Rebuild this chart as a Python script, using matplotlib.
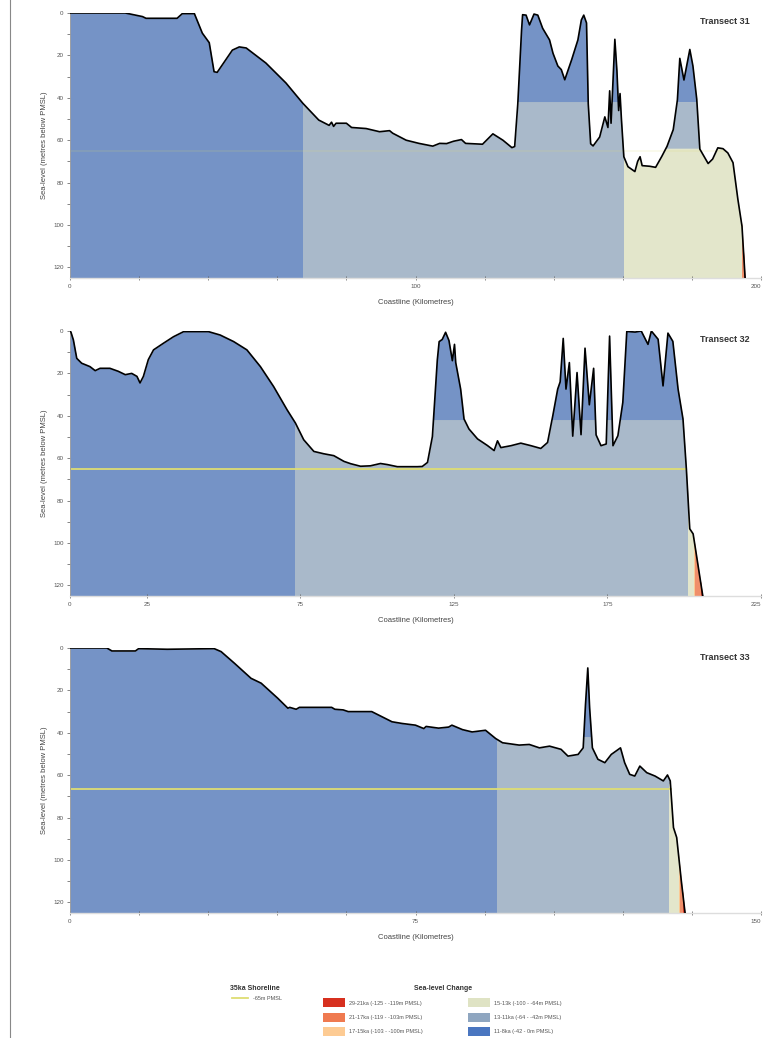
import numpy as np
import matplotlib
matplotlib.use("Agg")
import matplotlib.pyplot as plt
from matplotlib.patches import Rectangle
from matplotlib.lines import Line2D

# ---- data ---------------------------------------------------------------
# sea-level bands (metres below PMSL), shallow -> deep
band_edges = [0, 42, 64, 100, 103, 119, 125]
band_labels = ["11-8ka (-42 - 0m PMSL)", "13-11ka (-64 - -42m PMSL)",
               "15-13k (-100 - -64m PMSL)", "17-15ka (-103 - -100m PMSL)",
               "21-17ka (-119 - -103m PMSL)", "29-21ka (-125 - -119m PMSL)"]

# Transect 31
t31_km = [0, 16, 21, 22, 31, 32.5, 36, 38.3, 40.3, 41.7, 42.6, 47, 49, 51, 56.7, 62.5,
          67.4, 72, 75, 75.7, 76.3, 77, 80, 81.5, 85.7, 89.6, 92.5, 93.4, 97.3, 101,
          105, 107, 109, 111, 113.3, 114.5, 119.4, 122.4, 125.3, 127.9, 128.7, 129.6,
          130.7, 131, 132, 133, 134.3, 135.4, 136.8, 138.8, 139.8, 141.2, 142.2, 143.2,
          145.2, 147, 148, 148.7, 149.5, 150, 150.7, 151.4, 153.3, 154.8, 155.7, 156.2,
          156.6, 157, 157.7, 158.3, 158.8, 159.2, 159.6, 160.3, 161.5, 163.5, 164.3,
          165, 165.6, 167.8, 169.5, 171.3, 172.8, 174.6, 175.8, 176.5, 177.7, 179.4,
          180.3, 181.4, 182.3, 184.7, 186, 187.5, 189, 190.4, 191.9, 193.3, 194.5, 195.4]
t31_depth = [0, 0, 1.7, 2.5, 2.5, 0.3, 0.3, 9.5, 14, 27.7, 28, 17.5, 16, 16.5, 23.6, 33,
             42.6, 50.5, 53, 51.5, 53.5, 52, 52, 54, 54.5, 56, 55.5, 56.7, 60, 61.5,
             62.8, 61.5, 61.6, 60.5, 59.7, 61.5, 61.9, 57, 60, 63.5, 63, 43,
             8, 0.8, 1, 5.6, 0.5, 1, 7.2, 12.7, 19, 25, 26.7, 31.5,
             22, 12.7, 3.3, 1, 4.7, 42.8, 61.7, 62.7, 58.5, 49, 54, 36.7,
             52, 38, 12.4, 27.3, 46, 38, 50, 67.8, 72.5, 74.8, 70,
             67.8, 72, 72.3, 72.8, 67.6, 62.9, 55, 41, 21.4, 31.6, 17.2,
             25, 40.6, 64.2, 71, 68.9, 63.6, 64, 66, 70.6, 87.8, 100.6, 125]

# Transect 32
t32_km = [0, 0.3, 1.1, 2.2, 3.8, 6.5, 8.2, 9.8, 13, 15.7, 18, 20.1, 21.8, 22.8, 23.9,
          25.5, 27.2, 30.4, 33.7, 37, 45.1, 48.9, 53.3, 57.6, 62, 66.3, 70.7, 73.4,
          76.1, 79.4, 82.6, 85.9, 89.2, 91.4, 94.6, 97.8, 101.1, 103.3, 106.6, 113.1,
          114.7, 116.4, 118, 119.6, 120.2, 121.2, 122.3, 123.4, 124.5, 125.2, 125.6,
          127.2, 127.7, 128.3, 129.9, 132.7, 135.9, 138.1, 139.2, 140.3, 143.6, 146.8,
          150.1, 153.3, 155.5, 157.2, 158.8, 159.6, 160.6, 161.5, 162.6, 163.7, 165.1,
          166.4, 167.7, 169.1, 170.5, 171.3, 172.9, 174.6, 175.7, 176.8, 178.4, 180,
          181.3, 184, 186, 188.2, 189.3, 191.5, 193.1, 194.7, 196.3, 198, 199.6,
          200.7, 201.8, 202.9, 204, 206.1]
t32_depth = [0, 0.5, 4.2, 12.9, 15.2, 16.8, 18.7, 17.6, 17.6, 19, 20.6, 20, 21.4, 24.5,
             21.4, 13.5, 8.9, 5.8, 2.7, 0.3, 0.3, 1.9, 5, 8.9, 16.8, 26.2, 37.2, 43.4,
             51.3, 56.8, 57.9, 58.8, 61.5, 62.6, 63.8, 63.6, 62.5, 63, 64, 64,
             63.9, 62, 49.8, 13.7, 5, 4, 0.6, 4.5, 14, 6.3, 14.9,
             27.4, 33.7, 41.5, 46.2, 50.9, 54, 56.4, 51.8, 55, 54.1, 52.9,
             54.1, 55.4, 52.6, 40, 27.4, 24, 3.5, 27.4, 14.9, 49.6, 19.6,
             48.9, 8.1, 34.8, 17.6, 49, 54.1, 53.3, 2.4, 54.1, 49.4, 33.7,
             0.2, 0.5, 0, 6.3, 0, 3.9, 25.9, 1, 4.9, 27.4, 41.5,
             65.1, 93.3, 95.7, 105.9, 125.5]

# Transect 33
t33_km = [0, 8, 9.1, 14.2, 14.9, 21.1, 31.3, 32.8, 35.7, 39.3, 41.5, 45.1, 47.3, 47.7,
          49.1, 49.8, 56.8, 57.5, 59.3, 60.4, 65.5, 67.7, 69.9, 72.1, 75, 76.8, 77.3,
          80, 82.2, 82.9, 85.2, 87.3, 90.2, 92.4, 93.9, 97.5, 99.7, 101.9, 104.1, 106.6,
          108.1, 110.3, 111.4, 111.9, 112.4, 112.8, 113.4, 114.6, 116.1, 117.5, 119.5,
          120.4, 121.5, 122.6, 123.7, 125.2, 127, 128.8, 129.7, 130.3, 131, 131.7,
          132.7, 133.5]
t33_depth = [0, 0, 1.4, 1.4, 0.3, 0.6, 0.3, 1.7, 7.2, 14.3, 16.6, 23.7, 28.4, 28,
             28.9, 28, 28, 28.9, 29.2, 30, 30, 32.4, 34.8, 35.6, 36.4, 38, 37,
             37.8, 37.3, 36.4, 38.5, 39.6, 38.8, 42.7, 44.7, 45.8, 45.5, 47.1, 46.3, 47.8,
             51, 50.2, 47.1, 26.7, 9.4, 28.2, 47.1, 52.5, 54.1, 50.2, 47.1,
             54.1, 59.6, 60.4, 55.7, 58.8, 60.4, 62.7, 59.9, 62.7, 84.7, 89.4,
             109.8, 124.7]

# km where the shoreline of each sea-level band sits (band 1..5 boundaries)
t31_shorelines = [67.4, 160.3, 194.4, 194.6, 195.0]
t32_shorelines = [73.4, 201.2, 203.3, 203.6, 205.5]
t33_shorelines = [92.8, 130.1, 132.2, 132.4, 133.0]

# 35ka shoreline depth per transect
shore_35ka = [65, 65, 66.5]

names = ["Transect 31", "Transect 32", "Transect 33"]
x_max = [200, 225, 150]
x_labels = [[0, 100, 200], [0, 25, 75, 125, 175, 225], [0, 75, 150]]
x_minor = [20, None, 15]

# ---- style --------------------------------------------------------------
fill_colors = ["#7593c6", "#a9b9ca", "#e3e6cb", "#fbc994", "#f08f6a", "#d8402c"]
legend_colors = ["#4a76c0", "#8fa6c0", "#dfe3c4", "#fdcb93", "#ef7a50", "#d7301f"]
shore_color = "#dedd73"
tick_col = "#555555"

plt.rcParams['font.family'] = ['Liberation Sans', 'DejaVu Sans']

fig = plt.figure(figsize=(7.63, 10.38), dpi=100)
W, H = 763, 1038

panel_tops = [13, 331, 648]   # pixel row of 0 m
transects = [(t31_km, t31_depth, t31_shorelines),
             (t32_km, t32_depth, t32_shorelines),
             (t33_km, t33_depth, t33_shorelines)]


def draw_transect(ax, km, depth, shorelines, xmax, shore, faint):
    km = np.asarray(km, float)
    depth = np.asarray(depth, float)
    zone_x = [0] + list(shorelines) + [xmax]
    for z in range(6):
        x0, x1 = zone_x[z], zone_x[z + 1]
        if x1 <= x0:
            continue
        rect = Rectangle((x0, 0), x1 - x0, 130, transform=ax.transData)
        p = ax.fill_between(km, depth, 125, color=fill_colors[z], lw=0, zorder=1)
        p.set_clip_path(rect)
        # parts of the profile rising above deeper bands keep the shallower colour
        for k in range(z):
            top, bot = band_edges[k], band_edges[k + 1]
            r2 = Rectangle((x0, 0), x1 - x0, 130, transform=ax.transData)
            q = ax.fill_between(km, np.maximum(depth, top), bot, where=depth < bot,
                                interpolate=True, color=fill_colors[k], lw=0, zorder=1)
            q.set_clip_path(r2)
    # 35ka shoreline: from the coast to where the profile last crosses it
    idx = np.where(depth < shore)[0][-1]
    x_end = np.interp(shore, depth[idx:idx + 2], km[idx:idx + 2])
    ax.plot([0, x_end], [shore, shore], color=shore_color, lw=1.3,
            alpha=0.15 if faint else 1, zorder=2)
    ax.plot(km, depth, color="black", lw=1.2, zorder=3, solid_joinstyle="round")


for i in range(3):
    top = panel_tops[i]
    bottom_px = top + 265
    ax = fig.add_axes([70 / W, 1 - bottom_px / H, 691 / W, 265 / H])
    km, depth, shorelines = transects[i]
    draw_transect(ax, km, depth, shorelines, x_max[i], shore_35ka[i], faint=(i == 0))

    ax.set_xlim(0, x_max[i])
    ax.set_ylim(125, 0)
    for s in ["top", "right"]:
        ax.spines[s].set_visible(False)
    ax.spines["left"].set_color("#999999")
    ax.spines["bottom"].set_color("#dddddd")
    ax.spines["left"].set_linewidth(0.6)
    ax.spines["bottom"].set_linewidth(1.0)
    ax.spines["left"].set_bounds(0, 125)

    ax.set_yticks([0, 20, 40, 60, 80, 100, 120])
    ax.set_yticks(np.arange(10, 125, 20), minor=True)
    ax.set_xticks(x_labels[i])
    if x_minor[i]:
        ax.set_xticks(np.arange(0, x_max[i] + 1, x_minor[i]), minor=True)
    ax.tick_params(axis="both", which="both", labelsize=4.5, colors=tick_col,
                   length=2.5, width=0.5, pad=2)
    ax.tick_params(axis="x", which="both", direction="inout", length=3, pad=3)
    # last x label sits at the page edge; keep it inside
    ax.get_xticklabels()[-1].set_horizontalalignment("right")
    ax.set_xlabel("Coastline (Kilometres)", fontsize=5.5, color="#444444", labelpad=7)
    ax.set_ylabel("Sea-level (metres below PMSL)", fontsize=5.5, color="#444444",
                  labelpad=4)
    fig.text(750 / W, 1 - (top + 9) / H, names[i], ha="right", va="center",
             fontsize=6.5, fontweight="bold", color="#333333")

# page frame line on the left
fig.add_artist(Line2D([10 / W, 10 / W], [0, 1], color="#888888", lw=0.8))

# ---- legend -------------------------------------------------------------
fig.text(230 / W, 1 - 989 / H, "35ka Shoreline", fontsize=5, fontweight="bold",
         color="#333333", va="center")
fig.add_artist(Line2D([232 / W, 248 / W], [1 - 998 / H, 1 - 998 / H],
                      color=shore_color, lw=1.3))
fig.text(253 / W, 1 - 998 / H, "-65m PMSL", fontsize=4, color="#555555", va="center")
fig.text(443 / W, 1 - 989 / H, "Sea-level Change", fontsize=5, fontweight="bold",
         color="#333333", va="center", ha="center")

rows = [1003, 1018, 1032]
slots = [(323, rows[0], 5), (323, rows[1], 4), (323, rows[2], 3),
         (468, rows[0], 2), (468, rows[1], 1), (468, rows[2], 0)]
for sx, sy, b in slots:
    fig.add_artist(Rectangle((sx / W, 1 - (sy + 4) / H), 22 / W, 9 / H,
                             transform=fig.transFigure, color=legend_colors[b], lw=0))
    fig.text((sx + 26) / W, 1 - sy / H, band_labels[b], fontsize=4, color="#555555",
             va="center")

fig.savefig("out.png", dpi=100)
